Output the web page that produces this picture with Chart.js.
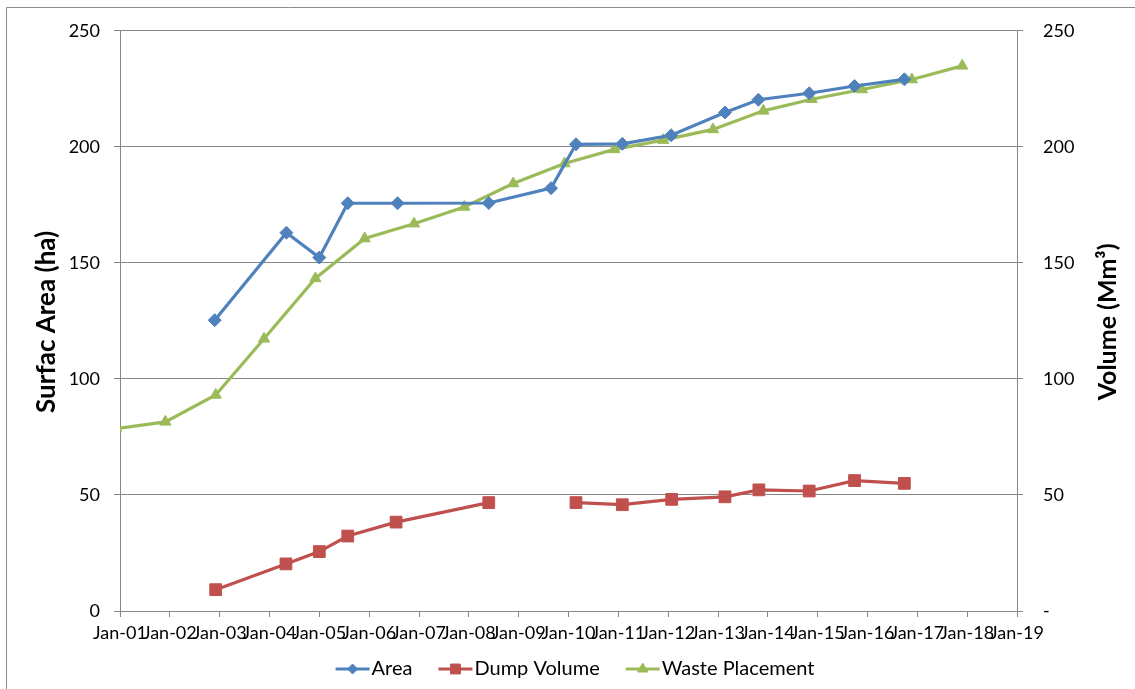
<!DOCTYPE html>
<html>
<head>
<meta charset="utf-8">
<script src="https://cdn.jsdelivr.net/npm/chart.js@4.4.1/dist/chart.umd.min.js"></script>
<style>
  html, body { margin: 0; padding: 0; background: #ffffff; }
  #wrap { position: relative; width: 1135px; height: 689px; }
</style>
</head>
<body>
<div id="wrap"><canvas id="chart" width="1135" height="689"></canvas></div>
<script>
// Dates are expressed as decimal years (2003.0 = 1 Jan 2003).
const tickLabels = ['Jan-01','Jan-02','Jan-03','Jan-04','Jan-05','Jan-06','Jan-07','Jan-08','Jan-09','Jan-10',
                    'Jan-11','Jan-12','Jan-13','Jan-14','Jan-15','Jan-16','Jan-17','Jan-18','Jan-19'];
const firstTickYear = 2001;

// Surface area (ha), left axis
const areaDates  = [2002.90, 2004.34, 2005.00, 2005.57, 2006.57, 2008.40, 2009.65, 2010.15, 2011.08, 2012.06, 2013.14, 2013.81, 2014.83, 2015.74, 2016.74];
const areaValues = [125.3,   163.0,   152.3,   175.7,   175.7,   175.8,   182.2,   201.1,   201.3,   205.0,   214.8,   220.3,   223.1,   226.2,   229.1];

// Dump volume (Mm3), right axis — no survey between 2008 and 2010
const dumpDates  = [2002.92, 2004.33, 2005.00, 2005.57, 2006.54, 2008.40, 2009.65, 2010.15, 2011.08, 2012.07, 2013.14, 2013.82, 2014.83, 2015.74, 2016.74];
const dumpValues = [9.2,     20.3,    25.6,    32.3,    38.3,    46.7,    null,    46.7,    45.8,    48.1,    49.2,    52.2,    51.7,    56.2,    55.0];

// Waste placement (Mm3), right axis
const wasteDates  = [2000.92, 2001.91, 2002.92, 2003.89, 2004.92, 2005.91, 2006.90, 2007.91, 2008.89, 2009.92, 2010.92, 2011.90, 2012.90, 2013.91, 2014.88, 2015.89, 2016.89, 2017.90];
const wasteValues = [78.6,    81.5,    93.1,    117.3,   143.3,   160.5,   166.9,   174.1,   184.2,   192.8,   198.9,   202.9,   207.5,   215.5,   220.5,   224.7,   229.0,   234.9];

const leftAxisTitle  = 'Surfac Area (ha)';
const rightAxisTitle = 'Volume (Mm³)';

const toPoints = (xs, ys) => xs.map((x, i) => ({ x: x, y: ys[i] }));

const FONT = 'Lato, "Open Sans", sans-serif';
const AXIS_GREY = '#868686';

// Frame, rotated axis titles and the line-and-marker legend
const decorations = {
  id: 'decorations',
  afterDraw(chart) {
    const ctx = chart.ctx;
    const area = chart.chartArea;
    ctx.save();

    // outer frame
    ctx.strokeStyle = '#8c8c8c';
    ctx.lineWidth = 1;
    ctx.beginPath();
    ctx.moveTo(6.5, chart.height);
    ctx.lineTo(6.5, 7.5);
    ctx.lineTo(chart.width, 7.5);
    ctx.stroke();

    // axis titles, both reading bottom to top
    const midY = (area.top + area.bottom) / 2;
    ctx.fillStyle = '#000000';
    ctx.textAlign = 'center';
    ctx.textBaseline = 'middle';
    [[47, leftAxisTitle, 26], [1108, rightAxisTitle, 25]].forEach(([x, text, size]) => {
      ctx.save();
      ctx.font = 'bold ' + size + 'px ' + FONT;
      ctx.translate(x, midY + 1);
      ctx.rotate(-Math.PI / 2);
      ctx.fillText(text, 0, 0);
      ctx.restore();
    });

    // legend
    ctx.font = '20px ' + FONT;
    ctx.textAlign = 'left';
    const lineLen = 34, gapText = 2, gapItem = 26;
    const items = chart.data.datasets.map(ds => ({
      ds: ds,
      w: lineLen + gapText + ctx.measureText(ds.label).width
    }));
    const total = items.reduce((s, it) => s + it.w, 0) + gapItem * (items.length - 1);
    let x = 575 - total / 2;
    const y = 669;
    items.forEach(it => {
      const ds = it.ds;
      ctx.strokeStyle = ds.borderColor;
      ctx.lineWidth = 3;
      ctx.beginPath();
      ctx.moveTo(x, y);
      ctx.lineTo(x + lineLen, y);
      ctx.stroke();
      ctx.fillStyle = ds.pointBackgroundColor;
      ctx.strokeStyle = ds.pointBorderColor;
      ctx.lineWidth = 1;
      Chart.helpers.drawPoint(ctx, {
        pointStyle: ds.pointStyle,
        radius: ds.legendRadius,
        rotation: 0,
        borderWidth: 1
      }, x + lineLen / 2, y);
      ctx.fillStyle = '#000000';
      ctx.textBaseline = 'middle';
      ctx.fillText(ds.label, x + lineLen + gapText, y);
      x += it.w + gapItem;
    });
    ctx.restore();
  }
};

const lineSet = (label, color, style, radius, legendRadius, data, axis) => ({
  label: label,
  data: data,
  yAxisID: axis,
  borderColor: color,
  backgroundColor: color,
  pointBackgroundColor: color,
  pointBorderColor: color,
  pointStyle: style,
  pointRadius: radius,
  pointHoverRadius: radius,
  pointBorderWidth: 1,
  legendRadius: legendRadius,
  borderWidth: 3.2,
  tension: 0,
  spanGaps: false,
  clip: { left: 0, top: false, right: false, bottom: false }
});

new Chart(document.getElementById('chart'), {
  type: 'line',
  data: {
    datasets: [
      lineSet('Area', '#4F81BD', 'rectRot', 6.5, 5, toPoints(areaDates, areaValues), 'yLeft'),
      lineSet('Dump Volume', '#C0504D', 'rect', 8.3, 7, toPoints(dumpDates, dumpValues), 'yRight'),
      lineSet('Waste Placement', '#9BBB59', 'triangle', 6.5, 6, toPoints(wasteDates, wasteValues), 'yRight')
    ]
  },
  options: {
    responsive: false,
    animation: false,
    devicePixelRatio: 1,
    layout: { padding: { top: 27, left: 0, right: 0, bottom: 0 } },
    plugins: {
      legend: { display: false },
      tooltip: { enabled: false },
      title: { display: false }
    },
    scales: {
      x: {
        type: 'linear',
        min: firstTickYear,
        max: firstTickYear + tickLabels.length - 1,
        afterFit(scale) { scale.height = 78; },
        afterBuildTicks(scale) {
          scale.ticks = tickLabels.map((_, i) => ({ value: firstTickYear + i }));
        },
        ticks: {
          autoSkip: false,
          maxRotation: 0,
          minRotation: 0,
          padding: 5,
          color: '#000000',
          font: { family: FONT, size: 18 },
          callback: (v) => tickLabels[Math.round(v) - firstTickYear]
        },
        grid: {
          drawOnChartArea: false,
          drawTicks: true,
          tickLength: 6,
          color: AXIS_GREY,
          lineWidth: 1
        },
        border: { display: true, color: AXIS_GREY, width: 1 }
      },
      yLeft: {
        type: 'linear',
        position: 'left',
        min: 0,
        max: 250,
        afterFit(scale) { scale.width = 120; },
        ticks: {
          stepSize: 50,
          padding: 14,
          color: '#000000',
          font: { family: FONT, size: 18 }
        },
        grid: {
          drawOnChartArea: true,
          drawTicks: true,
          tickLength: 6,
          color: AXIS_GREY,
          lineWidth: 1
        },
        border: { display: true, color: AXIS_GREY, width: 1 }
      },
      yRight: {
        type: 'linear',
        position: 'right',
        min: 0,
        max: 250,
        afterFit(scale) { scale.width = 118; },
        ticks: {
          stepSize: 50,
          padding: 20,
          color: '#000000',
          font: { family: FONT, size: 18 },
          callback: (v) => (v === 0 ? '-' : v)
        },
        grid: {
          drawOnChartArea: false,
          drawTicks: true,
          tickLength: 6,
          color: AXIS_GREY,
          lineWidth: 1
        },
        border: { display: true, color: AXIS_GREY, width: 1 }
      }
    }
  },
  plugins: [decorations]
});
</script>
</body>
</html>
